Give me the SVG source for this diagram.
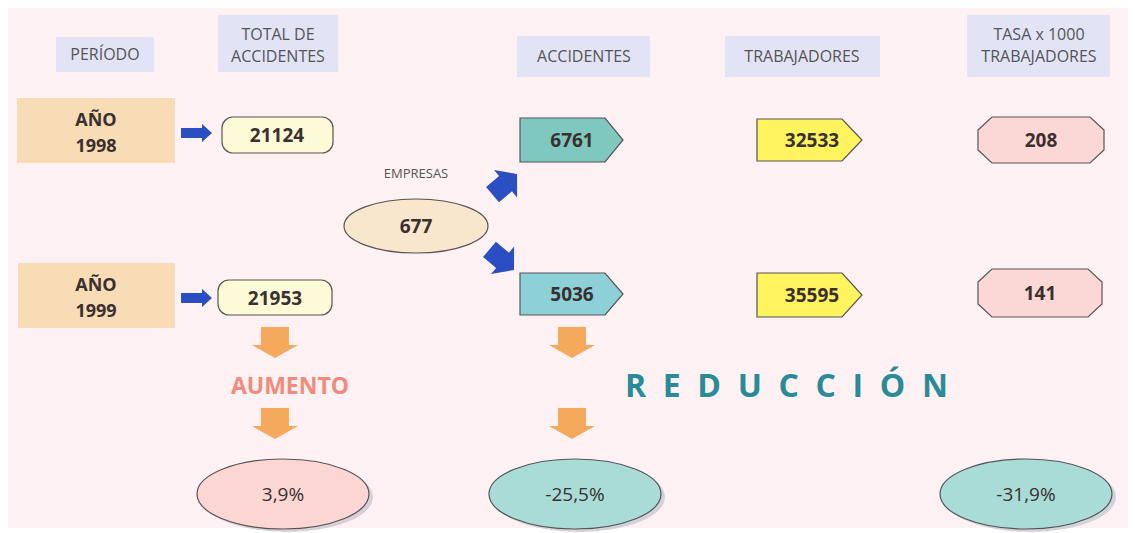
<svg xmlns="http://www.w3.org/2000/svg" width="1135" height="533" viewBox="0 0 1135 533">
<defs>
<style>
.hdr{fill:#e2e4f5}
.ht{font-family:"Open Sans","Noto Sans",sans-serif;font-size:16px;fill:#555;text-anchor:middle}
.num{font-family:"Open Sans","Noto Sans",sans-serif;font-size:19px;font-weight:bold;fill:#3a3030;text-anchor:middle}
.yt{font-family:"Open Sans","Noto Sans",sans-serif;font-size:18px;font-weight:bold;fill:#3a3030;text-anchor:middle}
.pct{font-family:"Open Sans","Noto Sans",sans-serif;font-size:19px;fill:#3a3030;text-anchor:middle}
.yr{fill:#f8dcb6}
.st{stroke:#555;stroke-width:1.2}
.blue{fill:#2b4fc2}
.org{fill:#f5a95c}
</style>
<path id="harrow" d="M0,-5 L21,-5 L21,-9 L31,0 L21,9 L21,5 L0,5 Z"/>
<path id="darrow" d="M-15,-10 L2,-10 L2,-18 L17,0 L2,18 L2,10 L-15,10 Z"/>
<path id="oarrow" d="M-14,0 L14,0 L14,18 L23,18 L0,31 L-23,18 L-14,18 Z"/>
</defs>
<rect width="1135" height="533" fill="#ffffff"/>
<rect x="8" y="8" width="1120" height="520" fill="#fdf1f4"/>

<g id="hdr-periodo">
<rect class="hdr" x="56" y="37" width="98" height="35"/>
<text class="ht" x="105" y="60">PERÍODO</text>
</g>
<g id="hdr-total">
<rect class="hdr" x="218" y="15" width="120" height="57"/>
<text class="ht" x="278" y="40">TOTAL DE</text>
<text class="ht" x="278" y="62">ACCIDENTES</text>
</g>
<g id="hdr-accidentes">
<rect class="hdr" x="517" y="36" width="133" height="41"/>
<text class="ht" x="584" y="62">ACCIDENTES</text>
</g>
<g id="hdr-trabajadores">
<rect class="hdr" x="725" y="36" width="155" height="41"/>
<text class="ht" x="802" y="62">TRABAJADORES</text>
</g>
<g id="hdr-tasa">
<rect class="hdr" x="967" y="15" width="143" height="62"/>
<text class="ht" x="1039" y="40">TASA x 1000</text>
<text class="ht" x="1039" y="62">TRABAJADORES</text>
</g>

<g id="anio1998">
<rect class="yr" x="17" y="98" width="158" height="65"/>
<text class="yt" x="96" y="126">AÑO</text>
<text class="yt" x="96" y="152">1998</text>
</g>
<g id="anio1999">
<rect class="yr" x="18" y="263" width="157" height="65"/>
<text class="yt" x="96" y="291">AÑO</text>
<text class="yt" x="96" y="317">1999</text>
</g>

<g id="total1998">
<rect class="st" x="222" y="117" width="111" height="36" rx="11" fill="#fdfbd7"/>
<text class="num" x="277" y="142">21124</text>
</g>
<g id="total1999">
<rect class="st" x="218" y="280" width="114" height="35" rx="11" fill="#fdfbd7"/>
<text class="num" x="275" y="305">21953</text>
</g>

<g id="empresas">
<text x="416" y="178" style="font-family:'Open Sans','Noto Sans',sans-serif;font-size:13px;fill:#555;text-anchor:middle">EMPRESAS</text>
<ellipse class="st" cx="416" cy="226" rx="72" ry="27" fill="#f8e6cd"/>
<text class="num" x="416" y="233">677</text>
</g>

<g id="acc1998">
<path class="st" d="M520,118 L605,118 L623,140 L605,162 L520,162 Z" fill="#7ec8bf"/>
<text class="num" x="572" y="147">6761</text>
</g>
<g id="acc1999">
<path class="st" d="M520,273 L605,273 L623,294 L605,315 L520,315 Z" fill="#8ed0d8"/>
<text class="num" x="572" y="301">5036</text>
</g>

<g id="trab1998">
<path class="st" d="M757,119 L842,119 L862,140 L842,161 L757,161 Z" fill="#fff35e"/>
<text class="num" x="812" y="147">32533</text>
</g>
<g id="trab1999">
<path class="st" d="M757,273 L842,273 L862,295 L842,317 L757,317 Z" fill="#fff35e"/>
<text class="num" x="812" y="302">35595</text>
</g>

<g id="tasa1998">
<path class="st" d="M992,117 L1090,117 L1104,130 L1104,150 L1090,163 L992,163 L978,150 L978,130 Z" fill="#fbd8d5"/>
<text class="num" x="1041" y="147">208</text>
</g>
<g id="tasa1999">
<path class="st" d="M992,269 L1088,269 L1102,282 L1102,304 L1088,317 L992,317 L978,304 L978,282 Z" fill="#fbd8d5"/>
<text class="num" x="1040" y="300">141</text>
</g>

<g id="aumento">
<text x="290" y="394" style="font-family:'Open Sans','Noto Sans',sans-serif;font-size:23px;font-weight:bold;fill:#f08b7b;text-anchor:middle">AUMENTO</text>
</g>
<g id="reduccion">
<text x="625" y="397" textLength="323" lengthAdjust="spacing" style="font-family:'Open Sans','Noto Sans',sans-serif;font-size:32px;font-weight:bold;fill:#2a8b98">REDUCCIÓN</text>
</g>

<g id="pct-total">
<ellipse cx="287" cy="497" rx="86" ry="35" fill="#d8d0d6"/>
<ellipse class="st" cx="283" cy="494" rx="86" ry="35" fill="#fbd6d3"/>
<text class="pct" x="283" y="501">3,9%</text>
</g>
<g id="pct-acc">
<ellipse cx="579" cy="497" rx="86" ry="35" fill="#d0d4da"/>
<ellipse class="st" cx="575" cy="494" rx="86" ry="35" fill="#a9dbd7"/>
<text class="pct" x="575" y="501">-25,5%</text>
</g>
<g id="pct-tasa">
<ellipse cx="1030" cy="497" rx="86" ry="35" fill="#d0d4da"/>
<ellipse class="st" cx="1026" cy="494" rx="86" ry="35" fill="#a9dbd7"/>
<text class="pct" x="1026" y="501">-31,9%</text>
</g>

<g id="connectors">
<use href="#harrow" class="blue" x="181" y="133"/>
<use href="#harrow" class="blue" x="181" y="298"/>
<use href="#darrow" class="blue" transform="translate(504,185) rotate(-40)"/>
<use href="#darrow" class="blue" transform="translate(501,259) rotate(40)"/>
<use href="#oarrow" class="org" x="275" y="327"/>
<use href="#oarrow" class="org" x="572" y="327"/>
<use href="#oarrow" class="org" x="275" y="408"/>
<use href="#oarrow" class="org" x="572" y="408"/>
</g>
</svg>
